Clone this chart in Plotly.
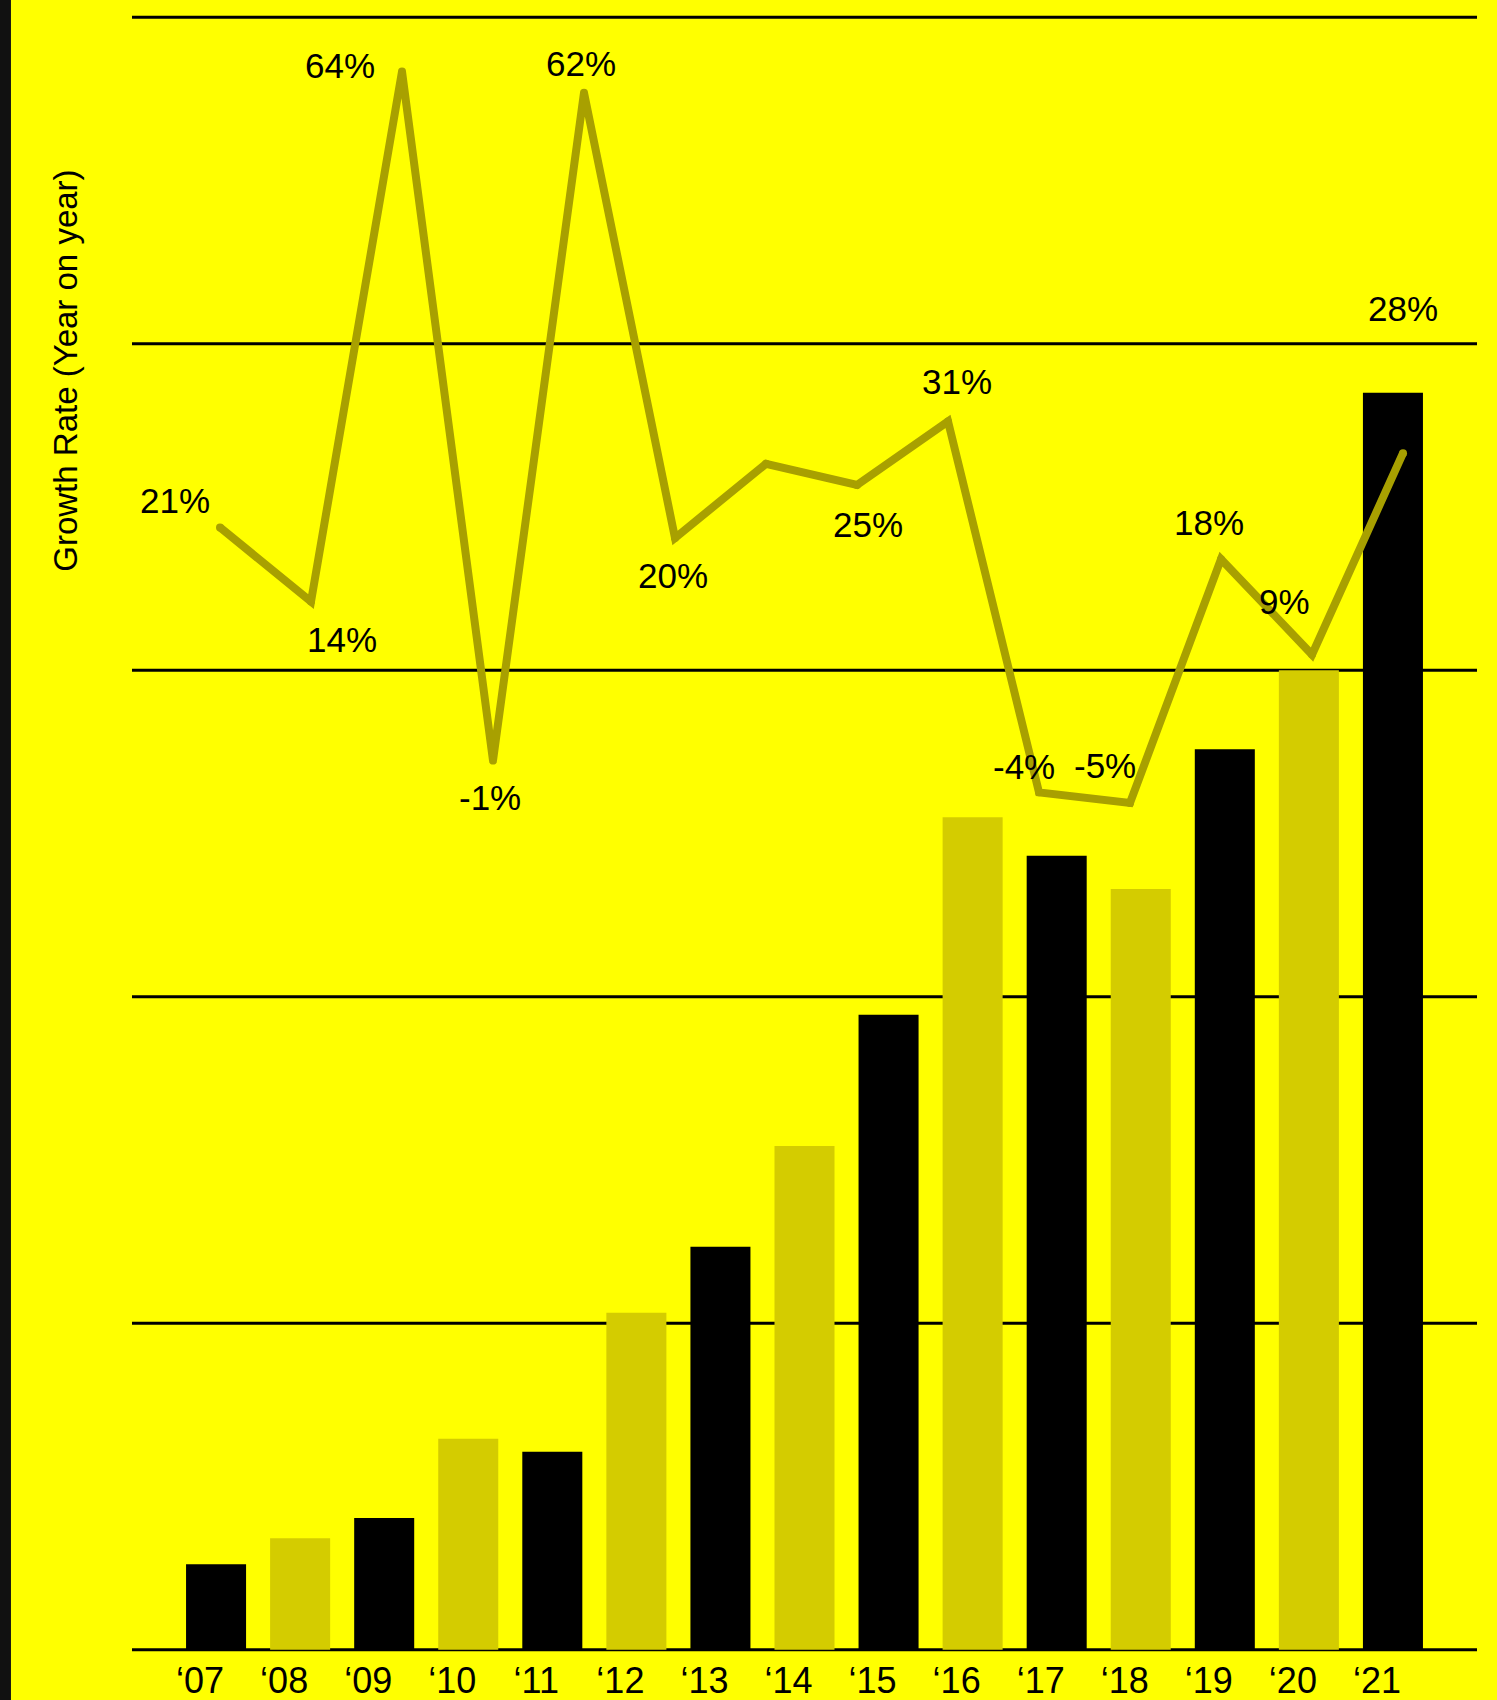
import plotly.graph_objects as go

# Revenue bars (index units, one grid step = 10)
years = ["\u201807", "\u201808", "\u201809", "\u201810", "\u201811", "\u201812", "\u201813",
         "\u201814", "\u201815", "\u201816", "\u201817", "\u201818", "\u201819", "\u201820", "\u201821"]
revenue = [2.62, 3.41, 4.03, 6.46, 6.06, 10.32, 12.34, 15.43, 19.45, 25.50,
           24.32, 23.30, 27.58, 30.00, 38.50]

# Year-on-year growth (%), '08 to '21
growth_years = years[1:]
growth = [21, 14, 64, -1, 62, 20, 27, 25, 31, -4, -5, 18, 9, 28]
growth_labelled = [True, True, True, True, True, True, False, True, True, True, True, True, True, True]

# label placement around each vertex (dx, dy in px; dy positive = down)
label_offsets = [(-45, -27), (31, 38), (-62, -6), (-3, 37), (-3, -29), (-2, 38), (0, 0),
                 (11, 40), (9, -40), (-15, -26), (-25, -37), (-12, -37), (-28, -53), (0, -145)]

BG = "#ffff00"
BLACK = "#000000"
OLIVE_BAR = "#d4cc00"
OLIVE_LINE = "#a8a000"
FONT = "Liberation Sans, Arial, sans-serif"

bar_colors = [BLACK if i % 2 == 0 else OLIVE_BAR for i in range(len(years))]

fig = go.Figure()

fig.add_trace(go.Bar(
    x=years, y=revenue, marker=dict(color=bar_colors, line=dict(width=0)),
    hoverinfo="skip", showlegend=False,
))

fig.add_trace(go.Scatter(
    x=list(range(len(growth))), y=growth, xaxis="x2", yaxis="y2",
    mode="lines+markers",
    line=dict(color=OLIVE_LINE, width=8),
    marker=dict(color=OLIVE_LINE, size=8, line=dict(width=0)),
    hoverinfo="skip", showlegend=False,
))

annotations = []
for i, (v, show) in enumerate(zip(growth, growth_labelled)):
    if not show:
        continue
    dx, dy = label_offsets[i]
    annotations.append(dict(
        x=i, y=v, xref="x2", yref="y2", text=f"{v}%", showarrow=False,
        xanchor="center", yanchor="middle", xshift=dx, yshift=-dy,
        font=dict(family=FONT, size=35, color=BLACK),
    ))

annotations.append(dict(
    x=-0.049, y=0.778, xref="paper", yref="paper", text="Growth Rate (Year on year)",
    textangle=-90, showarrow=False, xanchor="center", yanchor="middle",
    font=dict(family=FONT, size=33, color=BLACK),
))

shapes = []
for g in range(0, 51, 10):
    shapes.append(dict(type="line", xref="paper", yref="y", x0=0, x1=1, y0=g, y1=g,
                       line=dict(color=BLACK, width=3), layer="below"))
# dark strip along the left edge
shapes.append(dict(type="rect", xref="paper", yref="paper", x0=-0.0985, x1=-0.0900,
                   y0=-0.03, y1=1.01, fillcolor="#111111", line=dict(width=0), layer="above"))

fig.update_layout(
    width=1497, height=1700,
    margin=dict(l=132, r=20, t=1, b=34, autoexpand=False),
    paper_bgcolor=BG, plot_bgcolor=BG,
    bargap=0.286,
    font=dict(family=FONT, color=BLACK),
    xaxis=dict(range=[-1, 15], showgrid=False, zeroline=False, showline=False, ticks="",
               tickfont=dict(family=FONT, size=36, color=BLACK), automargin=False,
               ticklabelshift=-16, ticklabelstandoff=-10, fixedrange=True),
    yaxis=dict(range=[-0.5, 50.5], showgrid=False, zeroline=False, showticklabels=False,
               automargin=False, fixedrange=True),
    xaxis2=dict(range=[-0.967, 13.813], overlaying="x", anchor="y2", visible=False,
                fixedrange=True),
    yaxis2=dict(range=[-86.42, 70.66], overlaying="y", anchor="x2", visible=False,
                fixedrange=True),
    annotations=annotations,
    shapes=shapes,
)

fig.write_html("out.html")
